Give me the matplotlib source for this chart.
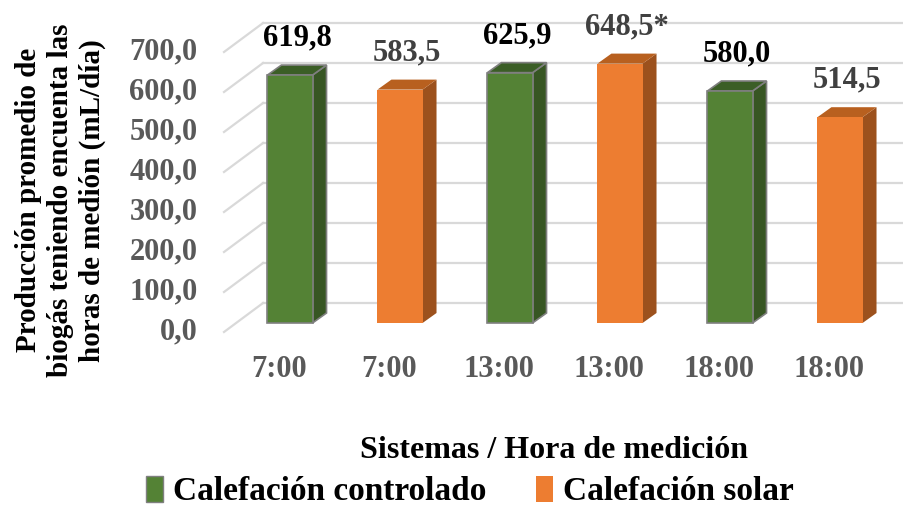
import matplotlib.pyplot as plt
from matplotlib.patches import Polygon, Patch

categories = ["7:00", "7:00", "13:00", "13:00", "18:00", "18:00"]
values = [619.8, 583.5, 625.9, 648.5, 580.0, 514.5]
labels = ["619,8", "583,5", "625,9", "648,5*", "580,0", "514,5"]
series = ["Calefación controlado", "Calefación solar"] * 3
yticks = [0, 100, 200, 300, 400, 500, 600, 700]

front = {"Calefación controlado": "#548235", "Calefación solar": "#ED7D31"}
side = {"Calefación controlado": "#375623", "Calefación solar": "#9C511D"}
top = {"Calefación controlado": "#3B5E26", "Calefación solar": "#B8601F"}
edge = {"Calefación controlado": "#7F7F7F", "Calefación solar": "none"}
lab_col = {"Calefación controlado": "#000000", "Calefación solar": "#404040"}

plt.rcParams["font.family"] = ["Liberation Serif", "DejaVu Serif"]
plt.rcParams["font.weight"] = "bold"

fig = plt.figure(figsize=(9.04, 5.07), dpi=100)
ax = fig.add_axes([0, 0, 1, 1])
ax.set_xlim(-290 / 110, 614 / 110)
ax.set_ylim(-184 / 0.4, 323 / 0.4)
ax.axis("off")

# pseudo 3D geometry (data units)
w = 0.41
dx, dy = 0.127, 25
x_front, x_back = -0.6, -0.245
back_off, front_off = 50, -22.5

# gridlines on the back wall + floor diagonals, y tick labels at the front
for t in yticks:
    ax.plot([x_back, 5.6], [t + back_off, t + back_off], color="#D9D9D9", lw=1.6, zorder=1)
    ax.plot([x_front, x_back], [t + front_off, t + back_off], color="#D9D9D9", lw=1.6, zorder=1)
    ax.text(x_front - 0.24, t + front_off, f"{t:.1f}".replace(".", ","), ha="right", va="center",
            fontsize=22, color="#595959")

x = list(range(len(values)))
for i, v in enumerate(values):
    s = series[i]
    ax.bar(x[i], v, width=w, color=front[s], edgecolor=edge[s], linewidth=1.2, zorder=3)
    r = x[i] + w / 2
    l = x[i] - w / 2
    ax.add_patch(Polygon([(r, 0), (r + dx, dy), (r + dx, v + dy), (r, v)],
                         closed=True, facecolor=side[s], edgecolor=edge[s], lw=1.2, zorder=2))
    ax.add_patch(Polygon([(l, v), (r, v), (r + dx, v + dy), (l + dx, v + dy)],
                         closed=True, facecolor=top[s], edgecolor=edge[s], lw=1.2, zorder=2))
    ax.text(x[i] + dx / 2, v + 92, labels[i], ha="center", va="center",
            fontsize=22, color=lab_col[s], zorder=4)
    ax.text(x[i] - 0.1, -117, categories[i], ha="center", va="center",
            fontsize=22, color="#595959")

fig.text(0.067, 0.605, "Producción promedio de\nbiogás teniendo encuenta las\nhoras de medión (mL/día)",
         rotation=90, ha="center", va="center", fontsize=21, linespacing=1.23, color="black")
fig.text(0.613, 0.112, "Sistemas / Hora de medición", ha="center", va="center",
         fontsize=23, color="black")

handles = [Patch(facecolor=front[k], edgecolor=edge[k]) for k in ["Calefación controlado", "Calefación solar"]]
fig.legend(handles, ["Calefación controlado", "Calefación solar"], loc="center",
           bbox_to_anchor=(0.52, 0.03), ncol=2, frameon=False, fontsize=24,
           handlelength=0.5, handleheight=0.8, handletextpad=0.3, columnspacing=1.5)

fig.savefig("out.png", dpi=100)
